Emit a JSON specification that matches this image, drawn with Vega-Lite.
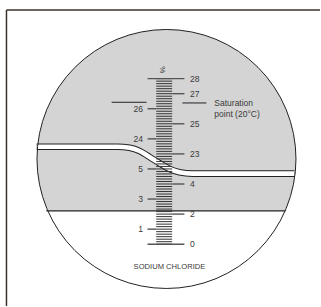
{
  "$schema": "https://vega.github.io/schema/vega-lite/v6.json",
  "width": 321,
  "height": 307,
  "padding": 0,
  "autosize": {"type": "fit", "contains": "padding"},
  "background": "white",
  "config": {"view": {"stroke": null}},
  "datasets": {
    "circle": [{"x": 167, "y": 159.5}],
    "lower": [{"x": 25, "x2": 305, "y": 211.5, "y2": 300}],
    "band": [
      {"x": 36.8, "y": 147.2}, {"x": 118, "y": 147.2}, {"x": 130, "y": 148.3}, {"x": 140, "y": 151.5},
      {"x": 150, "y": 157.5}, {"x": 160, "y": 163.7}, {"x": 170, "y": 169.5}, {"x": 180, "y": 172.8},
      {"x": 193, "y": 174.2}, {"x": 295.3, "y": 174.2}
    ],
    "chord": [{"x": 46.5, "x2": 286.5, "y": 211.5}],
    "frameV": [{"x": 6.5, "y": 10, "y2": 307}],
    "frameH": [{"x": 6.5, "x2": 321, "y": 10}],
    "minor": [
      {"x": 156.7, "x2": 172.7, "y": 245.0}, {"x": 156.7, "x2": 172.7, "y": 242.48}, {"x": 156.7, "x2": 172.7, "y": 239.97},
      {"x": 156.7, "x2": 172.7, "y": 237.45}, {"x": 156.7, "x2": 172.7, "y": 234.93}, {"x": 156.7, "x2": 172.7, "y": 232.42},
      {"x": 156.7, "x2": 172.7, "y": 229.9}, {"x": 156.7, "x2": 172.7, "y": 227.38}, {"x": 156.7, "x2": 172.7, "y": 224.87},
      {"x": 156.7, "x2": 172.7, "y": 222.35}, {"x": 156.7, "x2": 172.7, "y": 219.83}, {"x": 156.7, "x2": 172.7, "y": 217.32},
      {"x": 156.7, "x2": 172.7, "y": 214.8}, {"x": 156.7, "x2": 172.7, "y": 212.28}, {"x": 156.7, "x2": 172.7, "y": 209.77},
      {"x": 156.7, "x2": 172.7, "y": 207.25}, {"x": 156.7, "x2": 172.7, "y": 204.73}, {"x": 156.7, "x2": 172.7, "y": 202.22},
      {"x": 156.7, "x2": 172.7, "y": 199.7}, {"x": 156.7, "x2": 172.7, "y": 197.18}, {"x": 156.7, "x2": 172.7, "y": 194.67},
      {"x": 156.7, "x2": 172.7, "y": 192.15}, {"x": 156.7, "x2": 172.7, "y": 189.63}, {"x": 156.7, "x2": 172.7, "y": 187.12},
      {"x": 156.7, "x2": 172.7, "y": 184.6}, {"x": 156.7, "x2": 172.7, "y": 182.08}, {"x": 156.7, "x2": 172.7, "y": 179.57},
      {"x": 156.7, "x2": 172.7, "y": 177.05}, {"x": 156.7, "x2": 172.7, "y": 174.53}, {"x": 156.7, "x2": 172.7, "y": 172.02},
      {"x": 156.7, "x2": 172.7, "y": 169.5}, {"x": 156.7, "x2": 172.7, "y": 166.98}, {"x": 156.7, "x2": 172.7, "y": 164.47},
      {"x": 156.7, "x2": 172.7, "y": 161.95}, {"x": 156.7, "x2": 172.7, "y": 159.43}, {"x": 156.7, "x2": 172.7, "y": 156.92},
      {"x": 156.7, "x2": 172.7, "y": 154.4}, {"x": 156.7, "x2": 172.7, "y": 151.88}, {"x": 156.7, "x2": 172.7, "y": 149.37},
      {"x": 156.7, "x2": 172.7, "y": 146.85}, {"x": 156.7, "x2": 172.7, "y": 144.33}, {"x": 156.7, "x2": 172.7, "y": 141.82},
      {"x": 156.7, "x2": 172.7, "y": 139.3}, {"x": 156.7, "x2": 172.7, "y": 136.78}, {"x": 156.7, "x2": 172.7, "y": 134.27},
      {"x": 156.7, "x2": 172.7, "y": 131.75}, {"x": 156.7, "x2": 172.7, "y": 129.23}, {"x": 156.7, "x2": 172.7, "y": 126.72},
      {"x": 156.7, "x2": 172.7, "y": 124.2}, {"x": 156.7, "x2": 172.7, "y": 121.68}, {"x": 156.7, "x2": 172.7, "y": 119.17},
      {"x": 156.7, "x2": 172.7, "y": 116.65}, {"x": 156.7, "x2": 172.7, "y": 114.13}, {"x": 156.7, "x2": 172.7, "y": 111.62},
      {"x": 156.7, "x2": 172.7, "y": 109.1}, {"x": 156.7, "x2": 172.7, "y": 106.58}, {"x": 156.7, "x2": 172.7, "y": 104.07},
      {"x": 156.7, "x2": 172.7, "y": 101.55}, {"x": 156.7, "x2": 172.7, "y": 99.03}, {"x": 156.7, "x2": 172.7, "y": 96.52},
      {"x": 156.7, "x2": 172.7, "y": 94.0}, {"x": 156.7, "x2": 172.7, "y": 91.48}, {"x": 156.7, "x2": 172.7, "y": 88.97},
      {"x": 156.7, "x2": 172.7, "y": 86.45}, {"x": 156.7, "x2": 172.7, "y": 83.93}, {"x": 156.7, "x2": 172.7, "y": 81.42},
      {"x": 156.7, "x2": 172.7, "y": 78.9}
    ],
    "major": [
      {"label": "0", "y": 245.0, "x": 148, "x2": 185, "lx": 190.5, "side": "right"},
      {"label": "1", "y": 229.9, "x": 148, "x2": 156.7, "lx": 143.5, "side": "left"},
      {"label": "2", "y": 214.8, "x": 172.7, "x2": 185, "lx": 190.5, "side": "right"},
      {"label": "3", "y": 199.7, "x": 148, "x2": 156.7, "lx": 143.5, "side": "left"},
      {"label": "4", "y": 184.6, "x": 172.7, "x2": 185, "lx": 190.5, "side": "right"},
      {"label": "5", "y": 169.5, "x": 148, "x2": 156.7, "lx": 143.5, "side": "left"},
      {"label": "23", "y": 154.4, "x": 172.7, "x2": 185, "lx": 190.5, "side": "right"},
      {"label": "24", "y": 139.3, "x": 148, "x2": 156.7, "lx": 143.5, "side": "left"},
      {"label": "25", "y": 124.2, "x": 172.7, "x2": 185, "lx": 190.5, "side": "right"},
      {"label": "26", "y": 109.1, "x": 148, "x2": 156.7, "lx": 143.5, "side": "left"},
      {"label": "27", "y": 94.0, "x": 172.7, "x2": 185, "lx": 190.5, "side": "right"},
      {"label": "28", "y": 78.9, "x": 148, "x2": 185, "lx": 190.5, "side": "right"}
    ],
    "satLines": [
      {"x": 112, "x2": 147, "y": 102.6},
      {"x": 183, "x2": 207, "y": 103.3}
    ],
    "notes": [
      {"x": 215, "y": 103.3, "text": "Saturation"},
      {"x": 215, "y": 114.2, "text": "point (20°C)"}
    ],
    "title": [{"x": 170, "y": 268, "text": "SODIUM CHLORIDE"}],
    "unit": [{"x": 162.7, "y": 70, "text": "%"}]
  },
  "encoding": {
    "x": {"field": "x", "type": "quantitative", "scale": {"domain": [0, 321], "nice": false, "zero": false}, "axis": null},
    "y": {"field": "y", "type": "quantitative", "scale": {"domain": [0, 307], "nice": false, "zero": false, "reverse": true}, "axis": null}
  },
  "layer": [
    {"data": {"name": "circle"}, "mark": {"type": "point", "shape": "circle", "filled": true, "size": 67081, "color": "#d4d4d4", "opacity": 1, "strokeWidth": 0}},
    {"data": {"name": "lower"}, "mark": {"type": "rect", "color": "white"}, "encoding": {"x2": {"field": "x2"}, "y2": {"field": "y2"}}},
    {"data": {"name": "band"}, "mark": {"type": "line", "interpolate": "monotone", "color": "#222222", "strokeWidth": 6.6, "strokeCap": "butt"}, "encoding": {}},
    {"data": {"name": "band"}, "mark": {"type": "line", "interpolate": "monotone", "color": "white", "strokeWidth": 4.6, "strokeCap": "butt"}, "encoding": {}},
    {"data": {"name": "chord"}, "mark": {"type": "rule", "color": "#222222", "strokeWidth": 1.2}, "encoding": {"x2": {"field": "x2"}}},
    {"data": {"name": "circle"}, "mark": {"type": "point", "shape": "circle", "filled": false, "size": 67081, "color": "#222222", "opacity": 1, "strokeWidth": 1}},
    {"data": {"name": "frameV"}, "mark": {"type": "rule", "color": "#3d302e", "strokeWidth": 1.5}, "encoding": {"y2": {"field": "y2"}}},
    {"data": {"name": "frameH"}, "mark": {"type": "rule", "color": "#3d302e", "strokeWidth": 1.5}, "encoding": {"x2": {"field": "x2"}}},
    {"data": {"name": "minor"}, "mark": {"type": "rule", "color": "#333333", "strokeWidth": 1}, "encoding": {"x2": {"field": "x2"}}},
    {"data": {"name": "major"}, "mark": {"type": "rule", "color": "#555555", "strokeWidth": 1.4}, "encoding": {"x2": {"field": "x2"}}},
    {"data": {"name": "major"}, "transform": [{"filter": "datum.side === 'right'"}], "mark": {"type": "text", "align": "left", "baseline": "middle", "fontSize": 8.5, "font": "Liberation Sans", "color": "#3a3a3a"}, "encoding": {"x": {"field": "lx", "type": "quantitative"}, "text": {"field": "label"}}},
    {"data": {"name": "major"}, "transform": [{"filter": "datum.side === 'left'"}], "mark": {"type": "text", "align": "right", "baseline": "middle", "fontSize": 8.5, "font": "Liberation Sans", "color": "#3a3a3a"}, "encoding": {"x": {"field": "lx", "type": "quantitative"}, "text": {"field": "label"}}},
    {"data": {"name": "satLines"}, "mark": {"type": "rule", "color": "#222222", "strokeWidth": 1}, "encoding": {"x2": {"field": "x2"}}},
    {"data": {"name": "notes"}, "mark": {"type": "text", "align": "left", "baseline": "middle", "fontSize": 8.5, "font": "Liberation Sans", "color": "#3a3a3a"}, "encoding": {"text": {"field": "text"}}},
    {"data": {"name": "title"}, "mark": {"type": "text", "align": "center", "baseline": "middle", "fontSize": 7.6, "font": "Liberation Sans", "color": "#3a3a3a"}, "encoding": {"text": {"field": "text"}}},
    {"data": {"name": "unit"}, "mark": {"type": "text", "align": "center", "baseline": "middle", "fontSize": 8, "angle": 90, "font": "Liberation Sans", "color": "#3a3a3a"}, "encoding": {"text": {"field": "text"}}}
  ]
}
